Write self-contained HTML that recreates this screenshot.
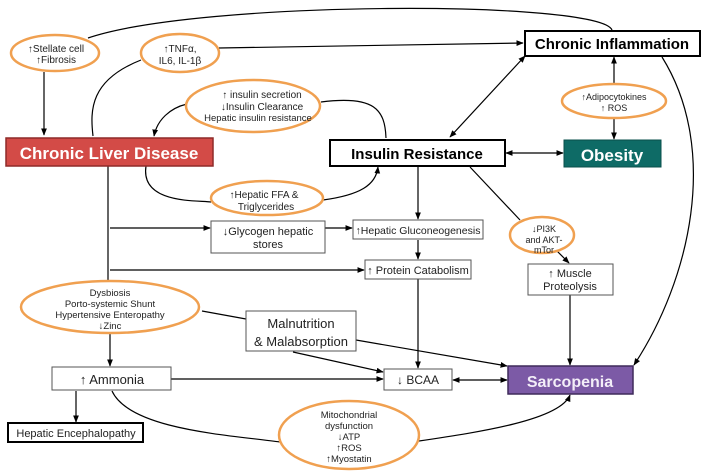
<!DOCTYPE html>
<html><head><meta charset="utf-8"><style>
body{margin:0;background:#fff}
svg{display:block;font-family:"Liberation Sans",sans-serif}
</style></head><body>
<svg width="708" height="475" viewBox="0 0 708 475" xmlns="http://www.w3.org/2000/svg">
<defs><marker id="a" viewBox="0 0 10 10" refX="9" refY="5" markerWidth="6" markerHeight="6" orient="auto-start-reverse"><path d="M0,1L10,5L0,9z" fill="#000"/></marker></defs>
<g fill="none" stroke="#000" stroke-width="1.2">
<path d="M88,38 C200,0 600,0 612,30"/>
<path d="M219,48 L523,43" marker-end="url(#a)"/>
<path d="M141,60 C90,80 90,110 93,136"/>
<line x1="44" y1="72" x2="44" y2="135" marker-end="url(#a)"/>
<path d="M187,104 C170,108 157,120 154,136" marker-end="url(#a)"/>
<path d="M321,102 C375,95 385,110 386,138"/>
<path d="M146,166 C140,205 200,200 211,202"/>
<path d="M323,200 C360,195 376,185 378,167" marker-end="url(#a)"/>
<line x1="450" y1="137" x2="525" y2="56" marker-start="url(#a)" marker-end="url(#a)"/>
<line x1="614" y1="83" x2="614" y2="57" marker-end="url(#a)"/>
<line x1="614" y1="118" x2="614" y2="139" marker-end="url(#a)"/>
<line x1="506" y1="153" x2="563" y2="153" marker-start="url(#a)" marker-end="url(#a)"/>
<path d="M662,57 C720,150 690,280 634,365" marker-end="url(#a)"/>
<line x1="418" y1="167" x2="418" y2="219" marker-end="url(#a)"/>
<line x1="470" y1="167" x2="520" y2="220"/>
<line x1="556" y1="250" x2="569" y2="263" marker-end="url(#a)"/>
<line x1="108" y1="166" x2="108" y2="281"/>
<line x1="110" y1="228" x2="210" y2="228" marker-end="url(#a)"/>
<line x1="325" y1="228" x2="352" y2="228" marker-end="url(#a)"/>
<line x1="110" y1="270" x2="364" y2="270" marker-end="url(#a)"/>
<line x1="418" y1="240" x2="418" y2="259" marker-end="url(#a)"/>
<line x1="418" y1="279" x2="418" y2="368" marker-end="url(#a)"/>
<line x1="570" y1="295" x2="570" y2="365" marker-end="url(#a)"/>
<line x1="202" y1="311" x2="246" y2="319"/>
<line x1="293" y1="352" x2="383" y2="372" marker-end="url(#a)"/>
<line x1="356" y1="340" x2="507" y2="366" marker-end="url(#a)"/>
<line x1="171" y1="379" x2="383" y2="379" marker-end="url(#a)"/>
<line x1="453" y1="380" x2="507" y2="380" marker-start="url(#a)" marker-end="url(#a)"/>
<line x1="110" y1="333" x2="110" y2="366" marker-end="url(#a)"/>
<line x1="76" y1="391" x2="76" y2="422" marker-end="url(#a)"/>
<path d="M112,391 C130,430 230,435 280,442"/>
<path d="M419,441 C480,432 560,420 570,395" marker-end="url(#a)"/>
</g>
<g fill="#fff" stroke="#f0a050" stroke-width="2.5">
<ellipse cx="55" cy="53" rx="44" ry="18"/>
<ellipse cx="180" cy="53" rx="39" ry="19"/>
<ellipse cx="253" cy="106" rx="67" ry="26"/>
<ellipse cx="614" cy="101" rx="52" ry="17"/>
<ellipse cx="267" cy="198" rx="56" ry="17"/>
<ellipse cx="542" cy="235" rx="32" ry="18"/>
<ellipse cx="110" cy="307" rx="89" ry="26"/>
<ellipse cx="349" cy="435" rx="70" ry="34"/>
</g>
<g font-size="10" text-anchor="middle" fill="#222">
<text x="56" y="52">↑Stellate cell</text><text x="56" y="63">↑Fibrosis</text>
<text x="180" y="52">↑TNFα,</text><text x="180" y="64">IL6, IL-1β</text>
<text x="262" y="98">↑ insulin secretion</text><text x="262" y="110">↓Insulin Clearance</text><text x="258" y="121" font-size="9.5">Hepatic insulin resistance</text>
<text x="264" y="198">↑Hepatic FFA &amp;</text><text x="266" y="210">Triglycerides</text>
<text x="614" y="100" font-size="9">↑Adipocytokines</text><text x="614" y="111" font-size="9">↑ ROS</text>
<text x="544" y="232" font-size="9">↓PI3K</text><text x="544" y="243" font-size="9">and AKT-</text><text x="544" y="253" font-size="9">mTor</text>
<text x="110" y="296" font-size="9.5">Dysbiosis</text><text x="110" y="307" font-size="9.5">Porto-systemic Shunt</text><text x="110" y="318" font-size="9.5">Hypertensive Enteropathy</text><text x="110" y="329" font-size="9.5">↓Zinc</text>
<text x="349" y="418" font-size="9.5">Mitochondrial</text><text x="349" y="429" font-size="9.5">dysfunction</text><text x="349" y="440" font-size="9.5">↓ATP</text><text x="349" y="451" font-size="9.5">↑ROS</text><text x="349" y="462" font-size="9.5">↑Myostatin</text>
</g>
<rect x="6" y="138" width="207" height="28" fill="#d34b47" stroke="#8e2a28" stroke-width="1.5"/>
<text x="109" y="159" font-size="17" font-weight="bold" fill="#fff" text-anchor="middle">Chronic Liver Disease</text>
<rect x="330" y="140" width="175" height="26" fill="#fff" stroke="#000" stroke-width="2"/>
<text x="417" y="159" font-size="15" font-weight="bold" text-anchor="middle">Insulin Resistance</text>
<rect x="564" y="140" width="97" height="27" fill="#0e6b66" stroke="#0a4f4b" stroke-width="1"/>
<text x="612" y="161" font-size="17" font-weight="bold" fill="#fff" text-anchor="middle">Obesity</text>
<rect x="525" y="31" width="175" height="25" fill="#fff" stroke="#000" stroke-width="2"/>
<text x="612" y="49" font-size="15" font-weight="bold" text-anchor="middle">Chronic Inflammation</text>
<g fill="#fff" stroke="#555" stroke-width="1">
<rect x="211" y="221" width="114" height="32"/>
<rect x="353" y="220" width="130" height="19"/>
<rect x="365" y="260" width="106" height="19"/>
<rect x="528" y="264" width="85" height="31"/>
<rect x="246" y="311" width="110" height="40"/>
<rect x="52" y="367" width="119" height="23"/>
<rect x="384" y="369" width="68" height="21"/>
</g>
<rect x="8" y="423" width="135" height="19" fill="#fff" stroke="#000" stroke-width="2"/>
<rect x="508" y="366" width="125" height="28" fill="#7c5aa6" stroke="#3e2a5a" stroke-width="1.5"/>
<g font-size="11" text-anchor="middle" fill="#222">
<text x="268" y="235">↓Glycogen hepatic</text><text x="268" y="248">stores</text>
<text x="418" y="234" font-size="10.5">↑Hepatic Gluconeogenesis</text>
<text x="418" y="274">↑ Protein Catabolism</text>
<text x="570" y="277">↑ Muscle</text><text x="570" y="290">Proteolysis</text>
<text x="301" y="328" font-size="13">Malnutrition</text><text x="301" y="346" font-size="13">&amp; Malabsorption</text>
<text x="112" y="384" font-size="13">↑ Ammonia</text>
<text x="418" y="384" font-size="12">↓ BCAA</text>
<text x="76" y="437" font-size="11">Hepatic Encephalopathy</text>
</g>
<text x="570" y="387" font-size="16" font-weight="bold" fill="#f3eef8" text-anchor="middle">Sarcopenia</text>
</svg>
</body></html>
